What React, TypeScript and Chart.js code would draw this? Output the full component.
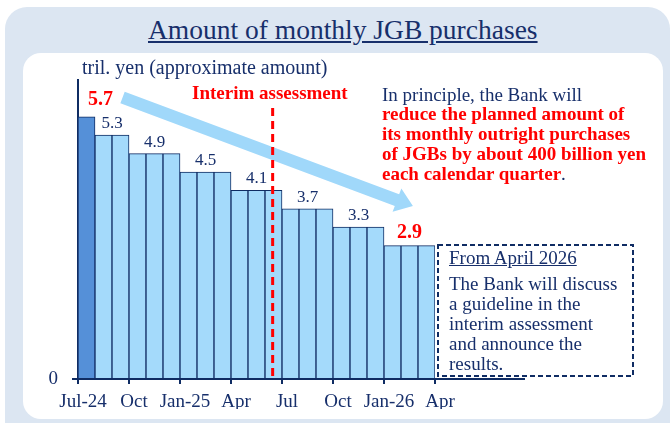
import React, { useEffect, useRef } from 'react';
import { Chart, registerables } from 'chart.js';

Chart.register(...registerables);

// ---- data ----
const months = [
  'Jul-24', 'Aug-24', 'Sep-24', 'Oct-24', 'Nov-24', 'Dec-24', 'Jan-25', 'Feb-25', 'Mar-25',
  'Apr-25', 'May-25', 'Jun-25', 'Jul-25', 'Aug-25', 'Sep-25', 'Oct-25', 'Nov-25', 'Dec-25',
  'Jan-26', 'Feb-26', 'Mar-26',
];
const purchases = [
  5.7, 5.3, 5.3, 4.9, 4.9, 4.9, 4.5, 4.5, 4.5, 4.1, 4.1, 4.1,
  3.7, 3.7, 3.7, 3.3, 3.3, 3.3, 2.9, 2.9, 2.9,
];
const xTickLabels = ['Jul-24', 'Oct', 'Jan-25', 'Apr', 'Jul', 'Oct', 'Jan-26', 'Apr'];
const yTickValues = [0];
const interimMonth = 11.45; // position (months after start of Jul-24)
const arrowFrom = { x: 2.62, y: 6.12 };
const arrowTo = { x: 19.7, y: 3.76 };

// ---- styles ----
const FONT = '"Liberation Serif", "Times New Roman", serif';
const NAVY = '#0f2c63';
const TEXT = '#172f6b';
const RED = '#ff0000';
const DARK = '#5590d8';
const LIGHT = '#a4dafb';
const ARROW = '#a0d8fa';

const annotPlugin = {
  id: 'annot',
  afterDatasetsDraw(chart: any) {
    const { ctx, chartArea } = chart;
    const xs = chart.scales.x;
    const ys = chart.scales.y;

    // axis extension under the note box
    ctx.save();
    ctx.strokeStyle = NAVY;
    ctx.lineWidth = 2;
    ctx.beginPath();
    ctx.moveTo(chartArea.right, chartArea.bottom);
    ctx.lineTo(chartArea.right + 90, chartArea.bottom);
    ctx.stroke();
    ctx.restore();

    // big arrow
    const x1 = xs.getPixelForValue(arrowFrom.x);
    const y1 = ys.getPixelForValue(arrowFrom.y);
    const x2 = xs.getPixelForValue(arrowTo.x);
    const y2 = ys.getPixelForValue(arrowTo.y);
    const ang = Math.atan2(y2 - y1, x2 - x1);
    const len = Math.hypot(x2 - x1, y2 - y1);
    const sh = 6.2, hh = 12.5, hl = 17;
    ctx.save();
    ctx.translate(x1, y1);
    ctx.rotate(ang);
    ctx.beginPath();
    ctx.moveTo(0, -sh);
    ctx.lineTo(len - hl, -sh);
    ctx.lineTo(len - hl, -hh);
    ctx.lineTo(len, 0);
    ctx.lineTo(len - hl, hh);
    ctx.lineTo(len - hl, sh);
    ctx.lineTo(0, sh);
    ctx.closePath();
    ctx.fillStyle = ARROW;
    ctx.fill();
    ctx.restore();

    // interim assessment dashed line
    const ix = xs.getPixelForValue(interimMonth);
    ctx.save();
    ctx.strokeStyle = RED;
    ctx.lineWidth = 3;
    ctx.setLineDash([8, 5]);
    ctx.beginPath();
    ctx.moveTo(ix, 108);
    ctx.lineTo(ix, chartArea.bottom);
    ctx.stroke();
    ctx.restore();

    // value labels per group of equal months
    const n = purchases.length;
    const groups: [number, number][] = [];
    let i = 0;
    while (i < n) {
      let j = i;
      while (j + 1 < n && purchases[j + 1] === purchases[i]) j++;
      groups.push([i, j]);
      i = j + 1;
    }
    ctx.save();
    ctx.textAlign = 'center';
    ctx.textBaseline = 'alphabetic';
    groups.forEach(([a, b], gi) => {
      const cx = (xs.getPixelForValue(a) + xs.getPixelForValue(b + 1)) / 2;
      const top = ys.getPixelForValue(purchases[a]);
      const label = purchases[a].toFixed(1);
      if (gi === 0) {
        ctx.font = `bold 20px ${FONT}`;
        ctx.fillStyle = RED;
        ctx.fillText(label, cx + 14, top - 12);
      } else if (gi === groups.length - 1) {
        ctx.font = `bold 20px ${FONT}`;
        ctx.fillStyle = RED;
        ctx.fillText(label, cx, top - 8);
      } else {
        ctx.font = `17px ${FONT}`;
        ctx.fillStyle = TEXT;
        ctx.fillText(label, cx, top - 7);
      }
    });
    ctx.restore();

    // dashed note box
    ctx.save();
    ctx.fillStyle = '#ffffff';
    ctx.fillRect(438, 245, 195, 131);
    ctx.strokeStyle = NAVY;
    ctx.lineWidth = 2;
    ctx.setLineDash([5, 3]);
    ctx.strokeRect(438, 245, 195, 131);
    ctx.restore();
  },
};

function Txt(props: any) {
  const { x, base, size, lh, bold, color, underline, children } = props;
  const L = lh ?? size * 1.2;
  return (
    <div
      style={{
        position: 'absolute',
        left: x,
        top: base - L / 2 - 0.3375 * size,
        fontFamily: FONT,
        fontSize: size,
        lineHeight: L + 'px',
        fontWeight: bold ? 700 : 400,
        color: color ?? TEXT,
        whiteSpace: 'pre',
        textDecoration: underline ? 'underline' : 'none',
      }}
    >
      {children}
    </div>
  );
}

export default function App() {
  const ref = useRef<HTMLCanvasElement>(null);
  useEffect(() => {
    const chart = new Chart(ref.current as HTMLCanvasElement, {
      type: 'bar',
      data: {
        labels: months,
        datasets: [
          {
            data: purchases,
            xAxisID: 'xc',
            yAxisID: 'y',
            backgroundColor: purchases.map((_, i) => (i === 0 ? DARK : LIGHT)),
            borderColor: NAVY,
            borderWidth: 1,
            barPercentage: 1,
            categoryPercentage: 1,
          } as any,
        ],
      },
      options: {
        responsive: false,
        animation: false,
        layout: { padding: { left: 48, top: 80, right: 235, bottom: 14 } },
        plugins: { legend: { display: false }, tooltip: { enabled: false } },
        scales: {
          xc: { type: 'category', display: false, offset: true },
          x: {
            type: 'linear',
            position: 'bottom',
            min: 0,
            max: 21,
            offset: false,
            afterBuildTicks: (s: any) => {
              s.ticks = xTickLabels.map((_, i) => ({ value: i * 3 }));
            },
            afterFit: (s: any) => {
              s.height = 30;
            },
            ticks: {
              callback: (_v: any, i: number) => xTickLabels[i],
              font: { family: FONT, size: 19 },
              color: TEXT,
              padding: 7,
              labelOffset: 5,
              maxRotation: 0,
              autoSkip: false,
            },
            grid: { offset: false, drawOnChartArea: false, tickLength: 5, color: NAVY, lineWidth: 2 },
            border: { color: NAVY, width: 2 },
          },
          y: {
            min: 0,
            max: 6.5,
            afterBuildTicks: (s: any) => {
              s.ticks = yTickValues.map((v) => ({ value: v }));
            },
            afterFit: (s: any) => {
              s.width = 30;
            },
            ticks: {
              callback: (v: any) => String(v),
              font: { family: FONT, size: 19 },
              color: TEXT,
              padding: 14,
            },
            grid: { drawOnChartArea: false, tickLength: 6, color: NAVY, lineWidth: 2 },
            border: { color: NAVY, width: 2 },
          },
        } as any,
      },
      plugins: [annotPlugin],
    });
    return () => chart.destroy();
  }, []);

  return (
    <div
      style={{
        position: 'fixed',
        left: 0,
        top: 0,
        width: 670,
        height: 423,
        overflow: 'hidden',
        background: '#ffffff',
      }}
    >
      <div
        style={{
          position: 'absolute',
          left: 5,
          top: 7,
          width: 665,
          height: 450,
          background: '#dce6f2',
          borderRadius: 22,
        }}
      />
      <div
        style={{
          position: 'absolute',
          left: 23,
          top: 53,
          width: 640,
          height: 366,
          background: '#ffffff',
          borderRadius: 18,
        }}
      />
      <Txt x={148} base={39} size={27.5} underline>
        Amount of monthly JGB purchases
      </Txt>
      <canvas
        ref={ref}
        width={670}
        height={423}
        style={{ position: 'absolute', left: 0, top: 0, width: 670, height: 423 }}
      />
      <Txt x={82} base={74} size={20}>
        tril. yen (approximate amount)
      </Txt>
      <Txt x={192} base={100} size={19} bold color={RED}>
        Interim assessment
      </Txt>
      <Txt x={382} base={101} size={19} lh={19.7}>
        {'In principle, the Bank will\n'}
        <span style={{ color: RED, fontWeight: 700 }}>
          {'reduce the planned amount of\nits monthly outright purchases\nof JGBs by about 400 billion yen\neach calendar quarter'}
        </span>
        .
      </Txt>
      <Txt x={449} base={265} size={19} underline>
        From April 2026
      </Txt>
      <Txt x={449} base={290.7} size={19} lh={20}>
        {'The Bank will discuss\na guideline in the\ninterim assessment\nand announce the\nresults.'}
      </Txt>
    </div>
  );
}
